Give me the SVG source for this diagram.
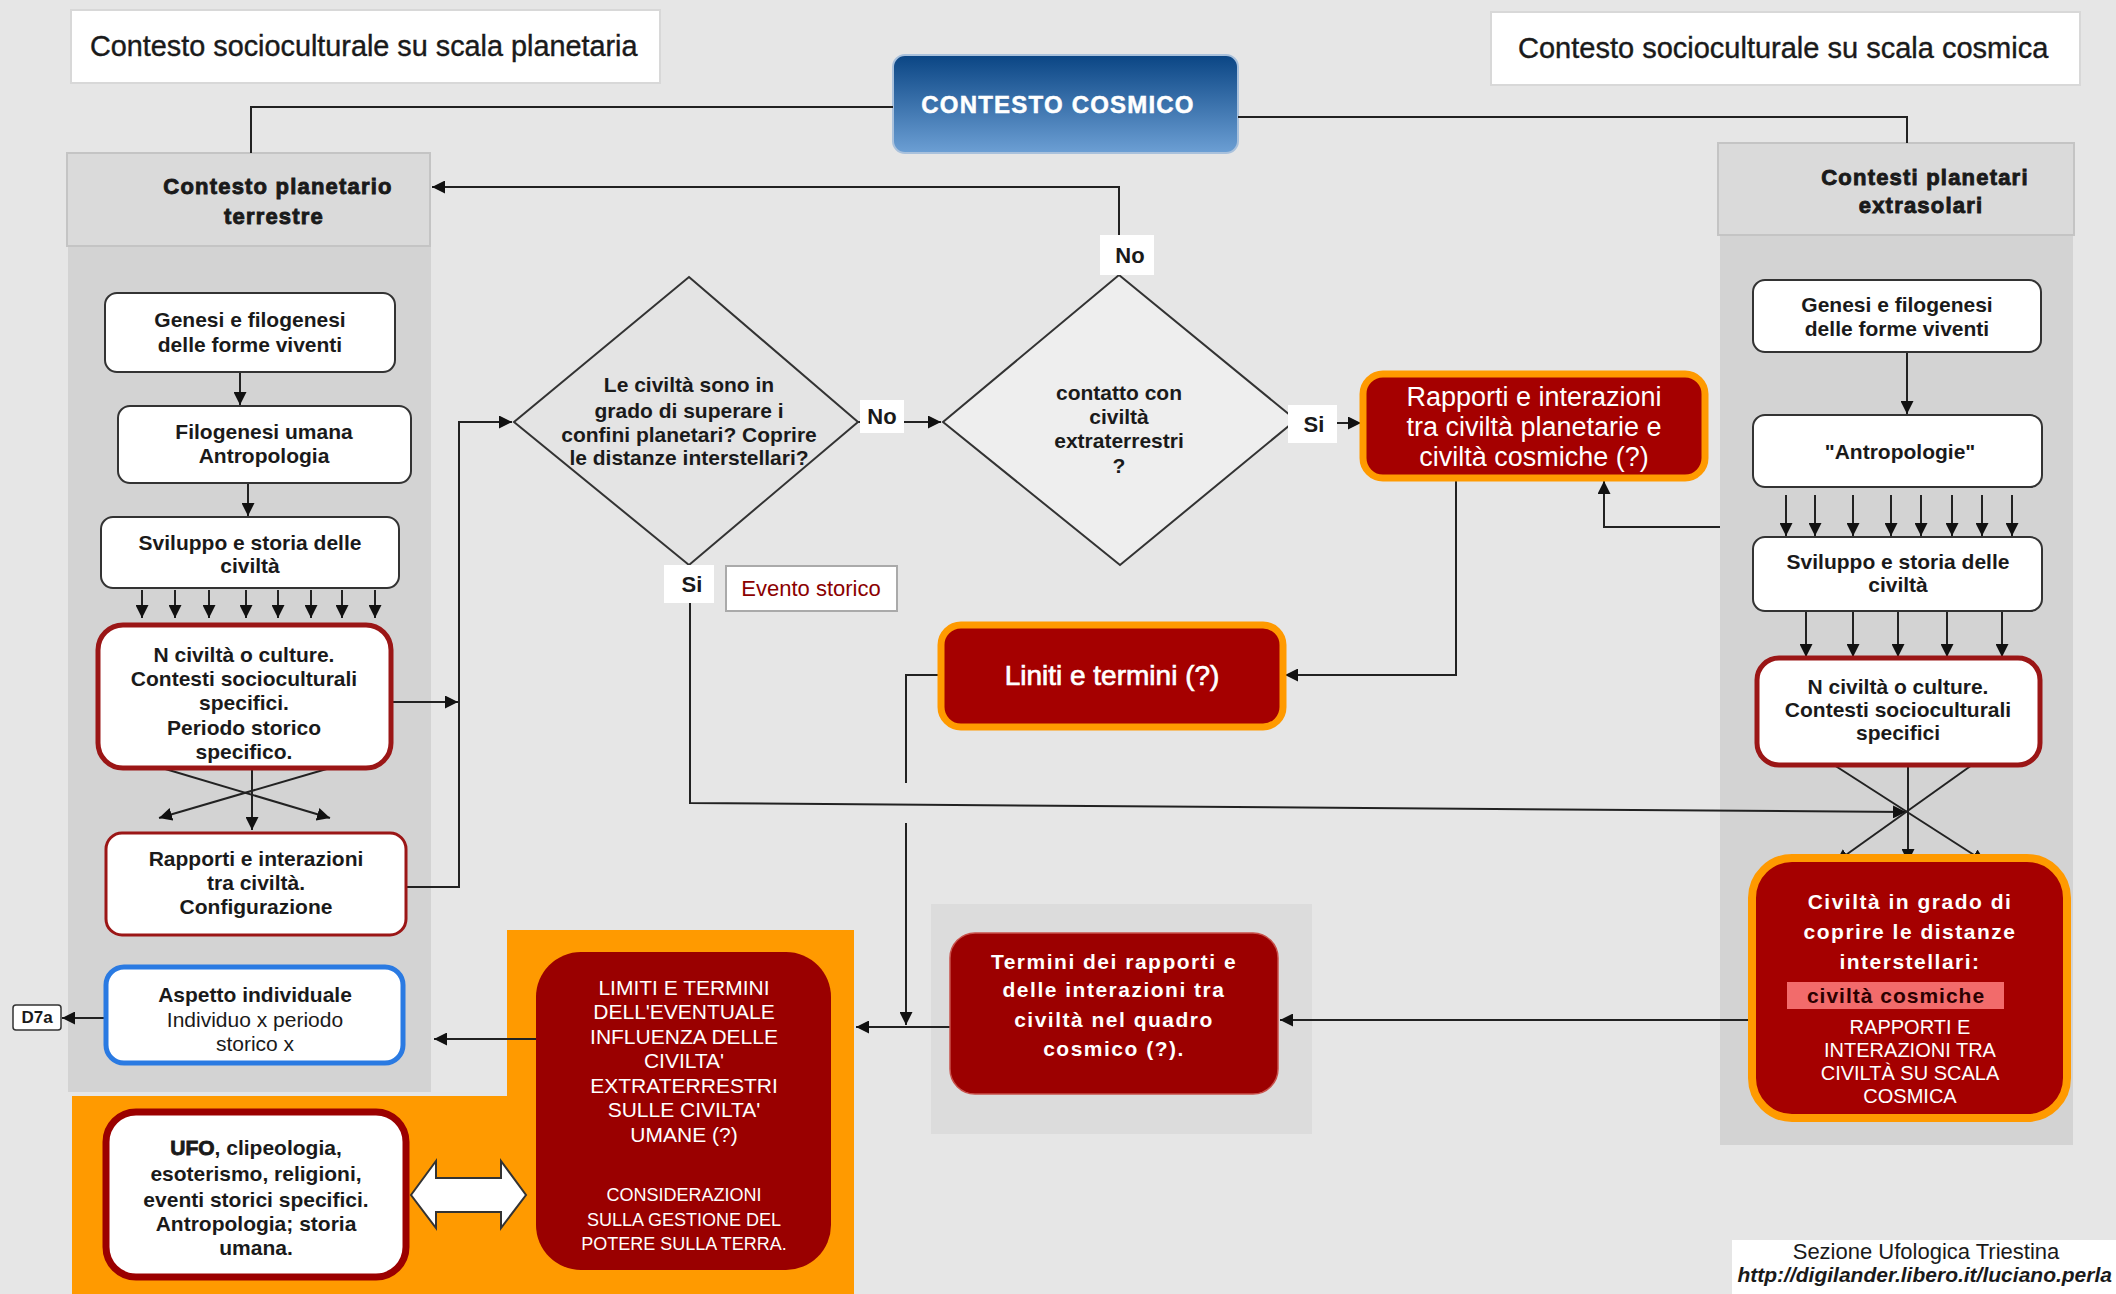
<svg xmlns="http://www.w3.org/2000/svg" width="2116" height="1294" viewBox="0 0 2116 1294">
<defs>
<marker id="ah" viewBox="0 0 10 10" refX="10" refY="5" markerWidth="13" markerHeight="13" markerUnits="userSpaceOnUse" orient="auto"><path d="M0,0 L10,5 L0,10 z" fill="#111"/></marker>
<linearGradient id="blue" x1="0" y1="0" x2="0" y2="1"><stop offset="0" stop-color="#0a4584"/><stop offset="1" stop-color="#6c9fd4"/></linearGradient>
<style>
text{font-family:"Liberation Sans",Arial,sans-serif;fill:#1a1a1a}
.t{font-size:21px;font-weight:bold;text-anchor:middle}
.r{font-size:21px;text-anchor:middle}
.w{fill:#fff;text-anchor:middle}
.box{fill:#fff;stroke:#333;stroke-width:2}
.rb{fill:#fff;stroke:#9b1616;stroke-width:5}
.red{fill:#a50000;stroke:#ff9a00;stroke-width:7}
.lbl{fill:#fff;stroke:none}
.ln{fill:none;stroke:#222;stroke-width:2}
.la{fill:none;stroke:#222;stroke-width:2;marker-end:url(#ah)}
.hd{fill:#dadada;stroke:#c4c4c4;stroke-width:2}
.hx{font-size:22px;font-weight:bold;text-anchor:middle;letter-spacing:1.2px;stroke:#1a1a1a;stroke-width:0.9}
.pn{fill:#d3d3d3}
.yn{font-size:22px;font-weight:bold;text-anchor:middle}
</style>
</defs>
<rect width="2116" height="1294" fill="#e6e6e6"/>

<g id="panels">
<rect class="pn" x="68" y="246" width="363" height="846"/>
<rect class="pn" x="1720" y="235" width="353" height="910"/>
<rect x="931" y="904" width="381" height="230" fill="#dcdcdc"/>
<polygon points="507,930 854,930 854,1294 72,1294 72,1096 507,1096" fill="#ff9a00"/>
</g>

<g id="title-planetaria">
<rect x="71" y="10" width="589" height="73" fill="#fff" stroke="#d8d8d8" stroke-width="2"/>
<text x="90" y="56" font-size="28.8" stroke="#1a1a1a" stroke-width="0.4">Contesto socioculturale su scala planetaria</text>
</g>
<g id="title-cosmica">
<rect x="1491" y="12" width="589" height="73" fill="#fff" stroke="#d8d8d8" stroke-width="2"/>
<text x="1518" y="58" font-size="29" stroke="#1a1a1a" stroke-width="0.4">Contesto socioculturale su scala cosmica</text>
</g>

<g id="contesto-cosmico">
<rect x="893" y="55" width="345" height="98" rx="12" fill="url(#blue)" stroke="#a9c1dc" stroke-width="2"/>
<text x="1058" y="113" font-size="24" font-weight="bold" letter-spacing="1.2" class="w" stroke="#fff" stroke-width="0.5">CONTESTO COSMICO</text>
</g>

<g id="header-terrestre">
<rect class="hd" x="67" y="153" width="363" height="93"/>
<text class="hx" x="278" y="194">Contesto planetario</text>
<text class="hx" x="274" y="224">terrestre</text>
</g>
<g id="header-extrasolari">
<rect class="hd" x="1718" y="143" width="356" height="92"/>
<text class="hx" x="1925" y="185">Contesti planetari</text>
<text class="hx" x="1921" y="213">extrasolari</text>
</g>

<g id="connectors">
<polyline class="ln" points="893,107 251,107 251,153"/>
<polyline class="ln" points="1238,117 1907,117 1907,143"/>
<polyline class="la" points="1119,235 1119,187 432,187"/>
<line class="la" x1="240" y1="372" x2="240" y2="405"/>
<line class="la" x1="248" y1="483" x2="248" y2="516"/>
<line class="la" x1="142" y1="590" x2="142" y2="618"/>
<line class="la" x1="175" y1="590" x2="175" y2="618"/>
<line class="la" x1="209" y1="590" x2="209" y2="618"/>
<line class="la" x1="246" y1="590" x2="246" y2="618"/>
<line class="la" x1="278" y1="590" x2="278" y2="618"/>
<line class="la" x1="311" y1="590" x2="311" y2="618"/>
<line class="la" x1="342" y1="590" x2="342" y2="618"/>
<line class="la" x1="375" y1="590" x2="375" y2="618"/>
<line class="la" x1="162" y1="768" x2="330" y2="818"/>
<line class="la" x1="330" y1="768" x2="159" y2="818"/>
<line class="la" x1="252" y1="768" x2="252" y2="830"/>
<line class="la" x1="391" y1="702" x2="458" y2="702"/>
<polyline class="la" points="406,887 459,887 459,422 512,422"/>
<line class="ln" x1="858" y1="422" x2="862" y2="422"/>
<line class="la" x1="904" y1="422" x2="941" y2="422"/>
<line class="la" x1="1337" y1="423" x2="1361" y2="423"/>
<polyline class="la" points="1456,478 1456,675 1285,675"/>
<polyline class="la" points="1720,527 1604,527 1604,481"/>
<polyline class="ln" points="941,675 906,675 906,783"/>
<line class="la" x1="906" y1="823" x2="906" y2="1025"/>
<polyline class="la" points="690,603 690,803 1906,812"/>
<line class="la" x1="950" y1="1027" x2="856" y2="1027"/>
<line class="la" x1="536" y1="1039" x2="434" y2="1039"/>
<line class="la" x1="106" y1="1018" x2="62" y2="1018"/>
<line class="la" x1="1752" y1="1020" x2="1280" y2="1020"/>
<line class="la" x1="1907" y1="352" x2="1907" y2="414"/>
<line class="la" x1="1786" y1="495" x2="1786" y2="536"/>
<line class="la" x1="1815" y1="495" x2="1815" y2="536"/>
<line class="la" x1="1853" y1="495" x2="1853" y2="536"/>
<line class="la" x1="1891" y1="495" x2="1891" y2="536"/>
<line class="la" x1="1921" y1="495" x2="1921" y2="536"/>
<line class="la" x1="1952" y1="495" x2="1952" y2="536"/>
<line class="la" x1="1982" y1="495" x2="1982" y2="536"/>
<line class="la" x1="2012" y1="495" x2="2012" y2="536"/>
<line class="la" x1="1806" y1="611" x2="1806" y2="657"/>
<line class="la" x1="1853" y1="611" x2="1853" y2="657"/>
<line class="la" x1="1898" y1="611" x2="1898" y2="657"/>
<line class="la" x1="1947" y1="611" x2="1947" y2="657"/>
<line class="la" x1="2002" y1="611" x2="2002" y2="657"/>
<line class="la" x1="1834" y1="765" x2="1985" y2="862"/>
<line class="la" x1="1972" y1="765" x2="1836" y2="862"/>
<line class="la" x1="1908" y1="765" x2="1908" y2="862"/>
</g>

<g id="genesi-terrestre">
<rect class="box" x="105" y="293" width="290" height="79" rx="12"/>
<text class="t" x="250" y="327">Genesi e filogenesi</text>
<text class="t" x="250" y="352">delle forme viventi</text>
</g>
<g id="filogenesi">
<rect class="box" x="118" y="406" width="293" height="77" rx="12"/>
<text class="t" x="264" y="439">Filogenesi umana</text>
<text class="t" x="264" y="463">Antropologia</text>
</g>
<g id="sviluppo-terrestre">
<rect class="box" x="101" y="517" width="298" height="71" rx="12"/>
<text class="t" x="250" y="550">Sviluppo e storia delle</text>
<text class="t" x="250" y="573">civiltà</text>
</g>
<g id="n-civilta-terrestre">
<rect class="rb" x="98" y="625" width="293" height="143" rx="25"/>
<text class="t" x="244" y="662">N civiltà o culture.</text>
<text class="t" x="244" y="686">Contesti socioculturali</text>
<text class="t" x="244" y="710">specifici.</text>
<text class="t" x="244" y="735">Periodo storico</text>
<text class="t" x="244" y="759">specifico.</text>
</g>
<g id="rapporti-terrestre">
<rect x="106" y="833" width="300" height="102" rx="16" fill="#fff" stroke="#9b1616" stroke-width="3"/>
<text class="t" x="256" y="866">Rapporti e interazioni</text>
<text class="t" x="256" y="890">tra civiltà.</text>
<text class="t" x="256" y="914">Configurazione</text>
</g>
<g id="aspetto-individuale">
<rect x="106" y="967" width="297" height="96" rx="18" fill="#fff" stroke="#2a7ae2" stroke-width="5"/>
<text class="t" x="255" y="1002">Aspetto individuale</text>
<text class="r" x="255" y="1027">Individuo x periodo</text>
<text class="r" x="255" y="1051">storico x</text>
</g>
<g id="d7a">
<rect x="13" y="1005" width="48" height="25" rx="3" fill="#fff" stroke="#333" stroke-width="1.5"/>
<text x="37" y="1023" font-size="17" font-weight="bold" text-anchor="middle">D7a</text>
</g>
<g id="ufo">
<rect x="106" y="1112" width="300" height="165" rx="30" fill="#fff" stroke="#9b0000" stroke-width="7"/>
<text class="t" x="256" y="1155"><tspan stroke="#1a1a1a" stroke-width="0.8">UFO</tspan>, clipeologia,</text>
<text class="t" x="256" y="1181">esoterismo, religioni,</text>
<text class="t" x="256" y="1207">eventi storici specifici.</text>
<text class="t" x="256" y="1231">Antropologia; storia</text>
<text class="t" x="256" y="1255">umana.</text>
</g>
<g id="double-arrow">
<polygon points="411,1195 436,1161 436,1178 501,1178 501,1161 526,1195 501,1228 501,1212 436,1212 436,1228" fill="#fff" stroke="#333" stroke-width="2"/>
</g>
<g id="limiti">
<rect x="536" y="952" width="295" height="318" rx="45" fill="#9a0000"/>
<g font-size="21">
<text class="w" x="684" y="995">LIMITI E TERMINI</text>
<text class="w" x="684" y="1019">DELL'EVENTUALE</text>
<text class="w" x="684" y="1044">INFLUENZA DELLE</text>
<text class="w" x="684" y="1068">CIVILTA'</text>
<text class="w" x="684" y="1093">EXTRATERRESTRI</text>
<text class="w" x="684" y="1117">SULLE CIVILTA'</text>
<text class="w" x="684" y="1142">UMANE (?)</text>
</g>
<g font-size="18">
<text class="w" x="684" y="1201">CONSIDERAZIONI</text>
<text class="w" x="684" y="1226">SULLA GESTIONE DEL</text>
<text class="w" x="684" y="1250">POTERE SULLA TERRA.</text>
</g>
</g>

<g id="diamond-confini">
<polygon points="689,277 858,422 689,565 514,422" fill="#e4e4e4" stroke="#333" stroke-width="2"/>
<text class="t" x="689" y="392">Le civiltà sono in</text>
<text class="t" x="689" y="418">grado di superare i</text>
<text class="t" x="689" y="442">confini planetari? Coprire</text>
<text class="t" x="689" y="465">le distanze interstellari?</text>
</g>
<g id="label-no-1">
<rect class="lbl" x="860" y="400" width="44" height="33"/>
<text class="yn" x="882" y="424">No</text>
</g>
<g id="label-si-1">
<rect class="lbl" x="664" y="565" width="50" height="38"/>
<text class="yn" x="692" y="592">Si</text>
</g>
<g id="evento-storico">
<rect x="726" y="566" width="171" height="45" fill="#fff" stroke="#aaa" stroke-width="2"/>
<text x="811" y="596" font-size="22" text-anchor="middle" style="fill:#8b0000">Evento storico</text>
</g>

<g id="diamond-contatto">
<polygon points="1119,275 1296,420 1120,565 943,422" fill="#eeeeee" stroke="#333" stroke-width="2"/>
<text class="t" x="1119" y="400">contatto con</text>
<text class="t" x="1119" y="424">civiltà</text>
<text class="t" x="1119" y="448">extraterrestri</text>
<text class="t" x="1119" y="473">?</text>
</g>
<g id="label-no-2">
<rect class="lbl" x="1100" y="235" width="54" height="40"/>
<text class="yn" x="1130" y="263">No</text>
</g>
<g id="label-si-2">
<rect class="lbl" x="1288" y="405" width="49" height="38"/>
<text class="yn" x="1314" y="432">Si</text>
</g>

<g id="rapporti-cosmici">
<rect class="red" x="1363" y="374" width="342" height="104" rx="20"/>
<text class="w" x="1534" y="406" font-size="27">Rapporti e interazioni</text>
<text class="w" x="1534" y="436" font-size="27">tra civiltà planetarie e</text>
<text class="w" x="1534" y="466" font-size="27">civiltà cosmiche (?)</text>
</g>
<g id="liniti">
<rect class="red" x="941" y="625" width="342" height="102" rx="20"/>
<text class="w" x="1112" y="685" font-size="28" stroke="#fff" stroke-width="0.7">Liniti e termini (?)</text>
</g>
<g id="termini">
<rect x="950" y="933" width="328" height="161" rx="25" fill="#9c0000" stroke="#c8504a" stroke-width="1.5"/>
<g font-size="21" font-weight="bold" letter-spacing="1.5">
<text class="w" x="1114" y="969">Termini dei rapporti e</text>
<text class="w" x="1114" y="997">delle interazioni tra</text>
<text class="w" x="1114" y="1027">civiltà nel quadro</text>
<text class="w" x="1114" y="1056">cosmico (?).</text>
</g>
</g>

<g id="genesi-extrasolare">
<rect class="box" x="1753" y="280" width="288" height="72" rx="12"/>
<text class="t" x="1897" y="312">Genesi e filogenesi</text>
<text class="t" x="1897" y="336">delle forme viventi</text>
</g>
<g id="antropologie">
<rect class="box" x="1753" y="415" width="289" height="72" rx="12"/>
<text class="t" x="1900" y="459">"Antropologie"</text>
</g>
<g id="sviluppo-extrasolare">
<rect class="box" x="1753" y="537" width="289" height="74" rx="12"/>
<text class="t" x="1898" y="569">Sviluppo e storia delle</text>
<text class="t" x="1898" y="592">civiltà</text>
</g>
<g id="n-civilta-extrasolare">
<rect class="rb" x="1757" y="658" width="283" height="107" rx="22"/>
<text class="t" x="1898" y="694">N civiltà o culture.</text>
<text class="t" x="1898" y="717">Contesti socioculturali</text>
<text class="t" x="1898" y="740">specifici</text>
</g>
<g id="civilta-cosmiche">
<rect x="1752" y="858" width="315" height="260" rx="40" fill="#a50000" stroke="#ff9a00" stroke-width="8"/>
<g font-size="21" font-weight="bold" letter-spacing="1.5">
<text class="w" x="1910" y="909">Civiltà in grado di</text>
<text class="w" x="1910" y="939">coprire le distanze</text>
<text class="w" x="1910" y="969">interstellari:</text>
</g>
<rect x="1787" y="982" width="217" height="27" fill="#f26b6b"/>
<text x="1896" y="1003" font-size="21" font-weight="bold" letter-spacing="1" text-anchor="middle" style="fill:#2b0000">civiltà cosmiche</text>
<g font-size="20">
<text class="w" x="1910" y="1034">RAPPORTI E</text>
<text class="w" x="1910" y="1057">INTERAZIONI TRA</text>
<text class="w" x="1910" y="1080">CIVILTÀ SU SCALA</text>
<text class="w" x="1910" y="1103">COSMICA</text>
</g>
</g>

<g id="footer">
<rect x="1732" y="1240" width="384" height="54" fill="#fff"/>
<text x="1926" y="1259" font-size="22" text-anchor="middle">Sezione Ufologica Triestina</text>
<text x="2112" y="1282" font-size="21" font-weight="bold" font-style="italic" text-anchor="end">http://digilander.libero.it/luciano.perla</text>
</g>
</svg>
